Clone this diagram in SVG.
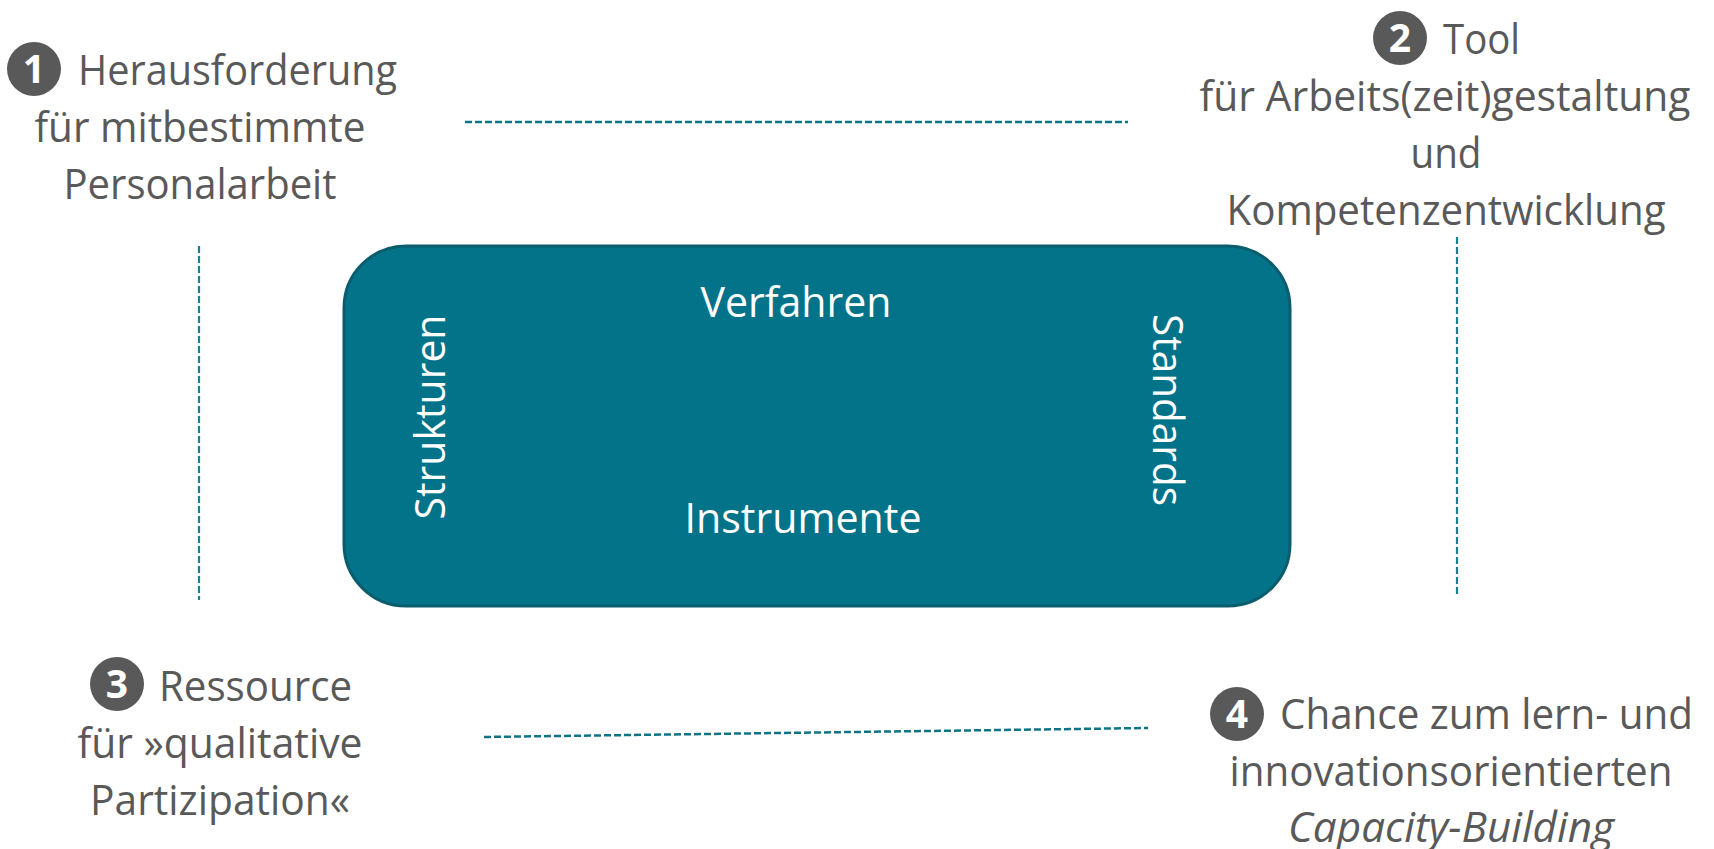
<svg xmlns="http://www.w3.org/2000/svg" width="1714" height="849" viewBox="0 0 1714 849">
<style>
.t{font-family:"Open Sans","Noto Sans","Liberation Sans",sans-serif;font-size:41.5px;fill:#595959}
.w{font-family:"Open Sans","Noto Sans","Liberation Sans",sans-serif;font-size:41.5px;fill:#ffffff}
.n{font-family:"Open Sans","Noto Sans","Liberation Sans",sans-serif;font-size:39px;font-weight:bold;fill:#ffffff}
.c{fill:#595959}
.d{stroke:#0d7488;stroke-width:2.5;stroke-dasharray:7 3;fill:none}
.v{stroke:#1a8194;stroke-width:2.2;stroke-dasharray:7 3;fill:none}
</style>
<rect width="1714" height="849" fill="#ffffff"/>
<g id="connectors">
<line class="d" x1="465" y1="122" x2="1128" y2="122"/>
<line class="d" x1="484" y1="737" x2="1148" y2="728"/>
<line class="v" x1="199" y1="246" x2="199" y2="600"/>
<line class="v" x1="1457" y1="237" x2="1457" y2="596"/>
</g>
<g id="center-box">
<rect x="344" y="246" width="946" height="360" rx="62" ry="62" fill="#03738a" stroke="#0a5d6c" stroke-width="3"/>
<text class="w" x="796" y="317" text-anchor="middle" textLength="191" lengthAdjust="spacingAndGlyphs">Verfahren</text>
<text class="w" x="803" y="533" text-anchor="middle" textLength="237" lengthAdjust="spacingAndGlyphs">Instrumente</text>
<text class="w" transform="translate(445,417) rotate(-90)" text-anchor="middle" textLength="205" lengthAdjust="spacingAndGlyphs">Strukturen</text>
<text class="w" transform="translate(1153,410) rotate(90)" text-anchor="middle" textLength="192" lengthAdjust="spacingAndGlyphs">Standards</text>
</g>
<g id="node1">
<circle class="c" cx="34" cy="69" r="27"/>
<text class="n" x="34" y="83" text-anchor="middle">1</text>
<text class="t" x="78" y="85" textLength="319" lengthAdjust="spacingAndGlyphs">Herausforderung</text>
<text class="t" x="200" y="142" text-anchor="middle" textLength="331" lengthAdjust="spacingAndGlyphs">für mitbestimmte</text>
<text class="t" x="200" y="199" text-anchor="middle" textLength="273" lengthAdjust="spacingAndGlyphs">Personalarbeit</text>
</g>
<g id="node2">
<circle class="c" cx="1400" cy="38" r="27"/>
<text class="n" x="1400" y="52" text-anchor="middle">2</text>
<text class="t" x="1443" y="54" textLength="77" lengthAdjust="spacingAndGlyphs">Tool</text>
<text class="t" x="1445" y="111" text-anchor="middle" textLength="491" lengthAdjust="spacingAndGlyphs">für Arbeits(zeit)gestaltung</text>
<text class="t" x="1446" y="168" text-anchor="middle" textLength="71" lengthAdjust="spacingAndGlyphs">und</text>
<text class="t" x="1446" y="225" text-anchor="middle" textLength="439" lengthAdjust="spacingAndGlyphs">Kompetenzentwicklung</text>
</g>
<g id="node3">
<circle class="c" cx="117" cy="684" r="27"/>
<text class="n" x="117" y="698" text-anchor="middle">3</text>
<text class="t" x="159" y="701" textLength="193" lengthAdjust="spacingAndGlyphs">Ressource</text>
<text class="t" x="220" y="758" text-anchor="middle" textLength="285" lengthAdjust="spacingAndGlyphs">für »qualitative</text>
<text class="t" x="220" y="815" text-anchor="middle" textLength="260" lengthAdjust="spacingAndGlyphs">Partizipation«</text>
</g>
<g id="node4">
<circle class="c" cx="1237" cy="714" r="27"/>
<text class="n" x="1237" y="728" text-anchor="middle">4</text>
<text class="t" x="1280" y="729" textLength="413" lengthAdjust="spacingAndGlyphs">Chance zum lern- und</text>
<text class="t" x="1451" y="786" text-anchor="middle" textLength="443" lengthAdjust="spacingAndGlyphs">innovationsorientierten</text>
<text class="t" x="1451" y="842" text-anchor="middle" textLength="326" lengthAdjust="spacingAndGlyphs" font-style="italic">Capacity-Building</text>
</g>
</svg>
